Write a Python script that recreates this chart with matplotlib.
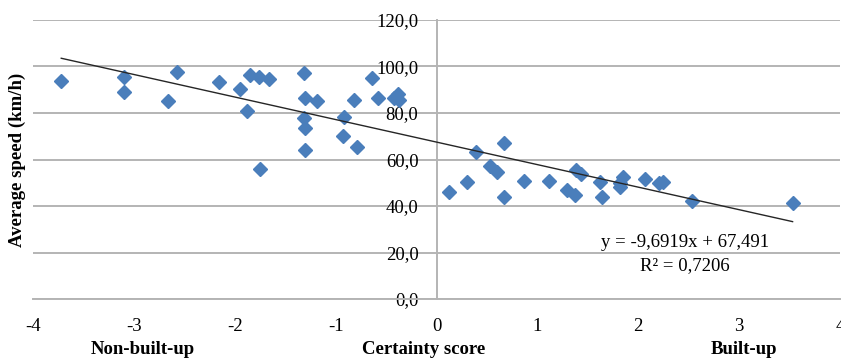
import numpy as np
import matplotlib.pyplot as plt
from matplotlib.ticker import FuncFormatter

# certainty score (x) vs average speed in km/h (y)
score = [-3.72, -3.10, -3.10, -2.57, -2.66, -2.16, -1.95, -1.85, -1.76, -1.66,
         -1.88, -1.75, -1.31, -1.30, -1.18, -1.31, -1.30, -1.30, -0.92, -0.93,
         -0.79, -0.82, -0.64, -0.58, -0.42, -0.38, -0.37,
         0.12, 0.30, 0.39, 0.67, 0.53, 0.60, 0.67, 0.87, 1.12, 1.29, 1.37,
         1.38, 1.43, 1.62, 1.64, 1.85, 1.82, 1.82, 2.07, 2.21, 2.25, 2.53, 3.53]
speed = [93.9, 95.4, 88.9, 97.6, 85.3, 93.2, 90.5, 96.2, 95.4, 94.5,
         81.0, 55.9, 97.3, 86.3, 85.2, 78.0, 73.4, 64.1, 78.4, 70.2,
         65.2, 85.6, 95.2, 86.3, 86.5, 88.0, 85.5,
         46.2, 50.5, 63.1, 67.2, 57.2, 54.8, 44.0, 50.9, 50.8, 46.9, 44.7,
         55.5, 53.6, 50.5, 44.0, 52.3, 50.0, 48.3, 51.5, 49.8, 50.5, 42.3, 41.2]

# linear trend as printed on the chart
slope = -9.6919
intercept = 67.491
r2 = 0.7206

xticks = [-4, -3, -2, -1, 0, 1, 2, 3, 4]
yticks = [0, 20, 40, 60, 80, 100, 120]

plt.rcParams['font.family'] = ['Liberation Serif', 'DejaVu Serif']
plt.rcParams['axes.unicode_minus'] = False

fig = plt.figure(figsize=(8.41, 3.6), dpi=100)
ax = fig.add_axes([33 / 841, 61 / 360, 807 / 841, 279 / 360])

grid_col = '#b4b4b4'
ax.set_xlim(-4, 4)
ax.set_ylim(0, 120)
ax.set_xticks(xticks)
ax.set_yticks(yticks)
ax.yaxis.grid(True, color=grid_col, linewidth=1.4, zorder=0)
ax.set_axisbelow(True)

for s in ['top', 'right']:
    ax.spines[s].set_visible(False)
ax.spines['left'].set_position(('data', 0))
ax.spines['left'].set_color(grid_col)
ax.spines['left'].set_linewidth(1.4)
ax.spines['bottom'].set_color(grid_col)
ax.spines['bottom'].set_linewidth(1.4)

ax.yaxis.set_major_formatter(FuncFormatter(lambda v, p: f"{v:.1f}".replace('.', ',')))
ax.tick_params(axis='y', length=0, pad=13, labelsize=13.5)
ax.tick_params(axis='x', length=0, pad=14, labelsize=13.5)

ax.plot(score, speed, linestyle='none', marker='D', ms=6.8,
        color='#4a7ebb', markeredgecolor='#4a7ebb', zorder=3)

xs = np.array([min(score), max(score)])
ax.plot(xs, slope * xs + intercept, color='#262626', linewidth=1.0, zorder=4)

ax.text(2.46, 24.1, f"y = {slope:.4f}x + {intercept:.3f}".replace('.', ','),
        ha='center', va='center', fontsize=13.5)
ax.text(2.46, 14.2, f"R² = {r2:.4f}".replace('.', ','),
        ha='center', va='center', fontsize=13.5)

fig.text(17 / 841, 0.557, 'Average speed (km/h)', rotation=90, ha='center',
         va='center', fontsize=13.5, fontweight='bold')
fig.text(143 / 841, 10 / 360, 'Non-built-up', ha='center', va='center',
         fontsize=13.5, fontweight='bold')
fig.text(424 / 841, 10 / 360, 'Certainty score', ha='center', va='center',
         fontsize=13.5, fontweight='bold')
fig.text(744 / 841, 10 / 360, 'Built-up', ha='center', va='center',
         fontsize=13.5, fontweight='bold')

fig.savefig('out.png', dpi=100)
